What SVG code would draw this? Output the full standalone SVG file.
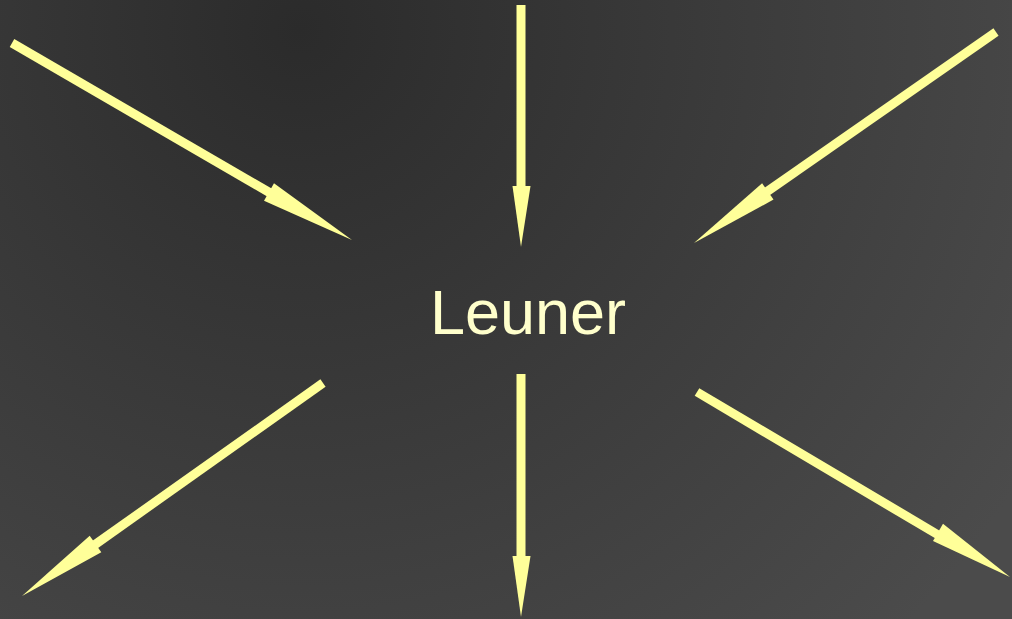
<svg xmlns="http://www.w3.org/2000/svg" width="1012" height="619" viewBox="0 0 1012 619">
<defs>
<radialGradient id="bg" gradientUnits="userSpaceOnUse" cx="300" cy="30" r="850">
<stop offset="0" stop-color="#2b2b2b"/>
<stop offset="1" stop-color="#4b4b4b"/>
</radialGradient>
<style>
.shaft{stroke:#ffff99;stroke-width:9;fill:none;stroke-linecap:butt}
.head{fill:#ffff99;stroke:none}
.lbl{font-family:"Liberation Sans",Arial,sans-serif;font-size:63px;fill:#ffffcc;text-anchor:middle}
</style>
</defs>
<rect width="1012" height="619" fill="url(#bg)"/>
<g id="center">
<text class="lbl" x="528" y="334">Leuner</text>
</g>
<g id="connectors">
<g id="a1"><line class="shaft" x1="12" y1="43" x2="272" y2="194"/><polygon class="head" points="352,240 264,200.7 274,183.3"/></g>
<g id="a2"><line class="shaft" x1="521" y1="5" x2="521" y2="190"/><polygon class="head" points="521,247 512.5,186 530.5,186"/></g>
<g id="a3"><line class="shaft" x1="996" y1="32" x2="765" y2="193"/><polygon class="head" points="694,243 762.1,183.2 773.5,199.6"/></g>
<g id="a4"><line class="shaft" x1="323" y1="383" x2="93" y2="546"/><polygon class="head" points="22,596 101.3,552.2 89.7,535.8"/></g>
<g id="a5"><line class="shaft" x1="521" y1="374" x2="521" y2="560"/><polygon class="head" points="521,617 512.5,556 530.5,556"/></g>
<g id="a6"><line class="shaft" x1="697" y1="392" x2="940" y2="536"/><polygon class="head" points="1010,577 933,541 943,523.8"/></g>
</g>
</svg>
